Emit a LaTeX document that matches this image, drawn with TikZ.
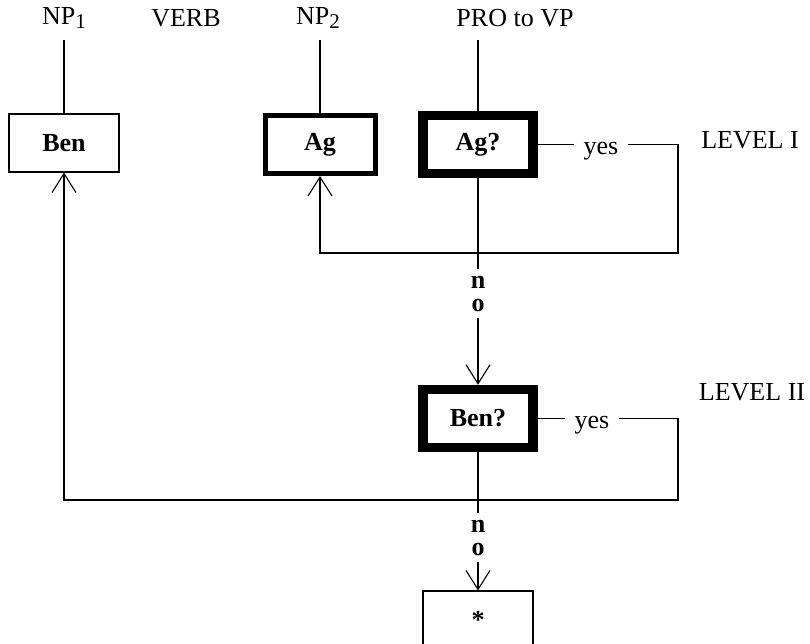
\documentclass[tikz,border=0pt]{standalone}
\usepackage{fontspec}
\setmainfont{Liberation Serif}
\usetikzlibrary{arrows.meta}
\newcommand\lowsub[1]{\raisebox{-0.35ex}{\fontsize{21}{21}\selectfont #1}}
\begin{document}
\begin{tikzpicture}[x=1pt,y=-1pt,
  every node/.style={font=\fontsize{26}{31}\selectfont},
  conn/.style={line width=1.1pt},
  arr/.style={conn,-{Straight Barb[length=19pt,width=24pt]}},
  toplabel/.style={inner sep=0pt},
  thinbox/.style={draw,line width=1.1pt,minimum width=110pt,minimum height=58pt,inner sep=0pt,font=\fontsize{26}{31}\selectfont\bfseries},
  midbox/.style={thinbox,line width=5pt},
  heavybox/.style={thinbox,line width=9.5pt},
  yeslabel/.style={inner xsep=9pt,inner ysep=0pt},
  nolabel/.style={inner sep=0pt,font=\fontsize{26}{31}\selectfont\bfseries},
  level/.style={inner sep=0pt}]
\useasboundingbox (0,0) rectangle (810,644);
\clip (0,0) rectangle (810,644);

% top labels
\node[toplabel] (np1) at (64,18) {NP\lowsub{1}};
\node[toplabel] (verb) at (186,18) {VERB};
\node[toplabel] (np2) at (318,18) {NP\lowsub{2}};
\node[toplabel] (pro) at (515,18) {PRO to VP};

% boxes
\node[thinbox] (ben) at (64,143) {Ben};
\node[midbox] (ag) at (320,144.5) {Ag};
\node[heavybox] (agq) at (478,144.5) {Ag?};
\node[heavybox] (benq) at (478,418.5) {Ben?};
\node[thinbox] (star) at (478,620) {*};

% side labels
\node[yeslabel] (yes1) at (601,151) {yes};
\node[yeslabel] (yes2) at (592,425) {yes};
\node[level] (lev1) at (750,140) {LEVEL I};
\node[level] (lev2) at (752,392) {LEVEL II};
\node[nolabel] (no1n) at (478,282) {n};
\node[nolabel] (no1o) at (478,305) {o};
\node[nolabel] (no2n) at (478,526) {n};
\node[nolabel] (no2o) at (478,549) {o};

% helper corners
\coordinate (c1) at (678,253);
\coordinate (c2) at (678,500);

% connectors from top labels
\draw[conn] (ben.north) -- (ben.north |- 0,40);
\draw[conn] (ag.north) -- (ag.north |- 0,40);
\draw[conn] (agq.north) -- (agq.north |- 0,40);

% level I
\draw[conn] (agq.east) -- (agq.east -| yes1.west);
\draw[arr] (agq.east -| yes1.east) -| (c1) -| (ag.south);
\draw[conn] (agq.south) -- ([yshift=7pt]no1n.north);
\draw[arr] ([yshift=-7pt]no1o.south) -- (benq.north);

% level II
\draw[conn] (benq.east) -- (benq.east -| yes2.west);
\draw[arr] (benq.east -| yes2.east) -| (c2) -| (ben.south);
\draw[conn] (benq.south) -- ([yshift=7pt]no2n.north);
\draw[arr] ([yshift=-7pt]no2o.south) -- (star.north);
\end{tikzpicture}
\end{document}
